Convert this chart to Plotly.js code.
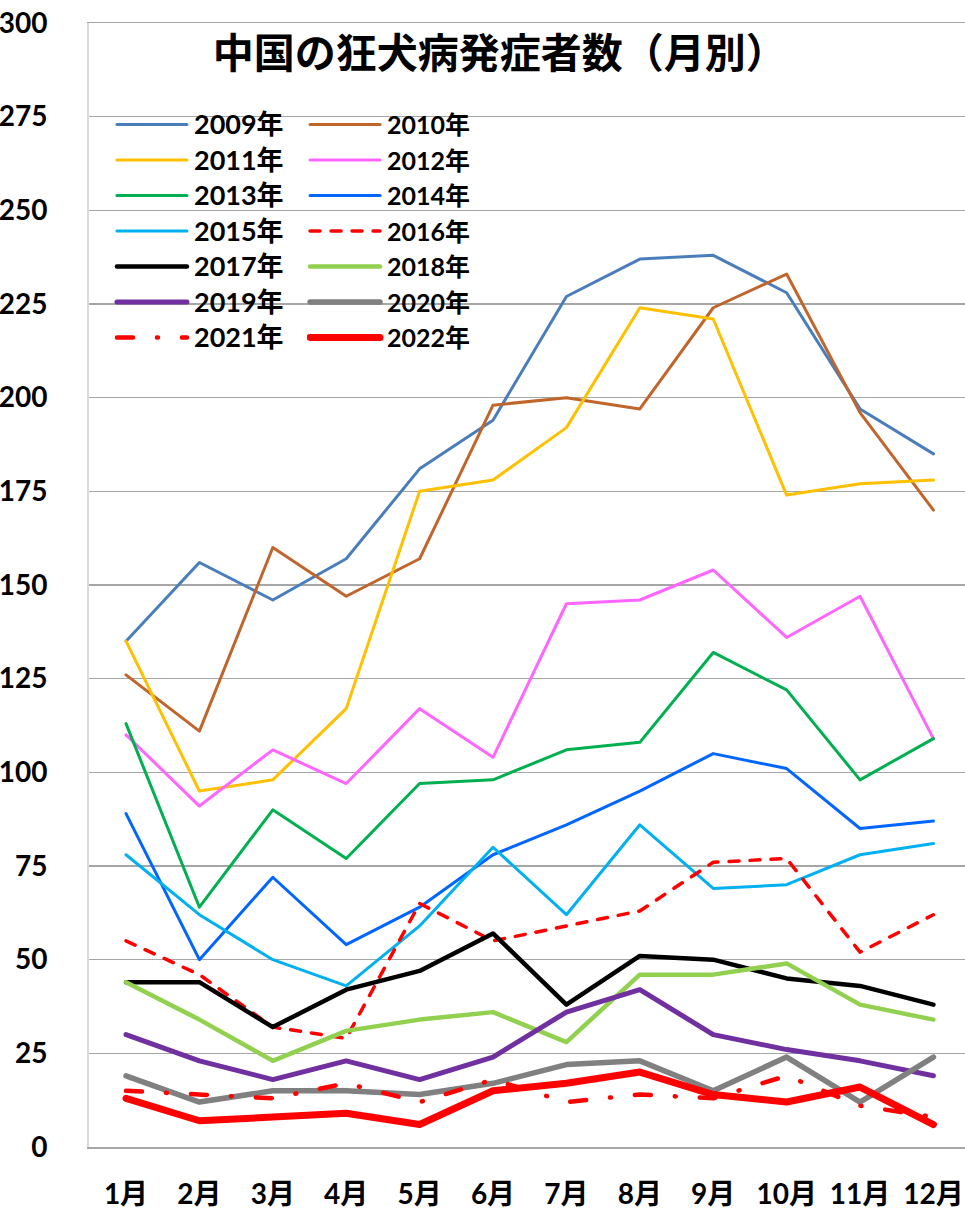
<!DOCTYPE html>
<html><head><meta charset="utf-8">
<script src="https://cdn.plot.ly/plotly-3.0.1.min.js"></script>
<style>
html,body{margin:0;padding:0;background:#fff;}
#chart{width:965px;height:1210px;}
.scatterlayer .js-line, .legendlines path { stroke-linecap: round; stroke-linejoin: round; }
</style></head><body><div id="chart"></div>
<script>
const months = ['1月','2月','3月','4月','5月','6月','7月','8月','9月','10月','11月','12月'];
const seriesNames = ['2009年','2010年','2011年','2012年','2013年','2014年','2015年','2016年','2017年','2018年','2019年','2020年','2021年','2022年'];
const v2009 = [135,156,146,157,181,194,227,237,238,228,197,185];
const v2010 = [126,111,160,147,157,198,200,197,224,233,196,170];
const v2011 = [135,95,98,117,175,178,192,224,221,174,177,178];
const v2012 = [110,91,106,97,117,104,145,146,154,136,147,109];
const v2013 = [113,64,90,77,97,98,106,108,132,122,98,109];
const v2014 = [89,50,72,54,64,78,86,95,105,101,85,87];
const v2015 = [78,62,50,43,59,80,62,86,69,70,78,81];
const v2016 = [55,46,32,29,65,55,59,63,76,77,52,62];
const v2017 = [44,44,32,42,47,57,38,51,50,45,43,38];
const v2018 = [44,34,23,31,34,36,28,46,46,49,38,34];
const v2019 = [30,23,18,23,18,24,36,42,30,26,23,19];
const v2020 = [19,12,15,15,14,17,22,23,15,24,12,24];
const v2021 = [15,14,13,17,12,18,12,14,13,19,11,8];
const v2022 = [13,7,8,9,6,15,17,20,14,12,16,6];
const yTicks = [0,25,50,75,100,125,150,175,200,225,250,275,300];

const values = [v2009,v2010,v2011,v2012,v2013,v2014,v2015,v2016,v2017,v2018,v2019,v2020,v2021,v2022];
const styles = [
  {color:'#4a7ebb', width:3},
  {color:'#c0652b', width:3},
  {color:'#ffc000', width:3},
  {color:'#ff66ff', width:3},
  {color:'#00b050', width:3},
  {color:'#0066ff', width:3},
  {color:'#00b0f0', width:3},
  {color:'#ff0000', width:3.5, dash:'10px,11px'},
  {color:'#000000', width:4.5},
  {color:'#92d050', width:4.5},
  {color:'#7030a0', width:5},
  {color:'#808080', width:5.5},
  {color:'#ff0000', width:4.5, dash:'16px,24px,1px,24px'},
  {color:'#ff0000', width:7}
];

const FONT = "Lato, 'Noto Sans CJK JP', sans-serif";
const traces = values.map((v,i)=>({
  type:'scatter', mode:'lines', x:months, y:v, name:seriesNames[i],
  line:Object.assign({}, styles[i]),
  legend: i%2===0 ? 'legend' : 'legend2',
  hoverinfo:'skip'
}));

const legendBase = {
  yanchor:'top', xanchor:'left', y:0.9300,
  bgcolor:'rgba(0,0,0,0)', borderwidth:0, itemwidth:70,
  font:{family:FONT, size:25, color:'#000', weight:'bold'}
};

const layout = {
  width:965, height:1210, autosize:false,
  margin:{l:89, r:0, t:23, b:62.5, pad:0},
  paper_bgcolor:'#fff', plot_bgcolor:'#fff',
  showlegend:true,
  title:{text:'中国の狂犬病発症者数（月別）',
    font:{family:"'Noto Sans CJK JP', sans-serif", size:41, color:'#000', weight:'bold'},
    x:0.469, xref:'paper', xanchor:'center', y:1-54/1210, yref:'container', yanchor:'middle'},
  xaxis:{type:'category', range:[-0.504, 11.43], showgrid:false, showline:true, mirror:true,
    linecolor:'#a6a6a6', linewidth:1.5, ticks:'', ticklabelstandoff:22, zeroline:false,
    tickfont:{family:FONT, size:28, color:'#000', weight:'bold'}},
  yaxis:{range:[0,300], tickmode:'array', tickvals:yTicks, ticktext:yTicks.map(String),
    showgrid:true, gridcolor:'#a6a6a6', gridwidth:1.5, zeroline:false,
    showline:true, linecolor:'#d9d9d9', linewidth:2, ticks:'', ticklabelstandoff:34,
    tickfont:{family:FONT, size:28, color:'#000', weight:'bold'}},
  legend:Object.assign({}, legendBase, {x:0.0285}),
  legend2:Object.assign({}, legendBase, {x:0.2489}),
  shapes:[{type:'rect', xref:'paper', yref:'paper', x0:0.016, x1:0.458, y0:0.7000, y1:0.9268,
    fillcolor:'#ffffff', line:{width:0}, layer:'between'}]
};

Plotly.newPlot('chart', traces, layout, {staticPlot:true, displayModeBar:false}).then(gd => {
  gd.querySelectorAll('.legendlines path').forEach(p => p.setAttribute('d','M3,0h70'));
  gd.querySelectorAll('.legend text.legendtext').forEach(t => { t.style.fontSize = '27px'; });
});
</script></body></html>
